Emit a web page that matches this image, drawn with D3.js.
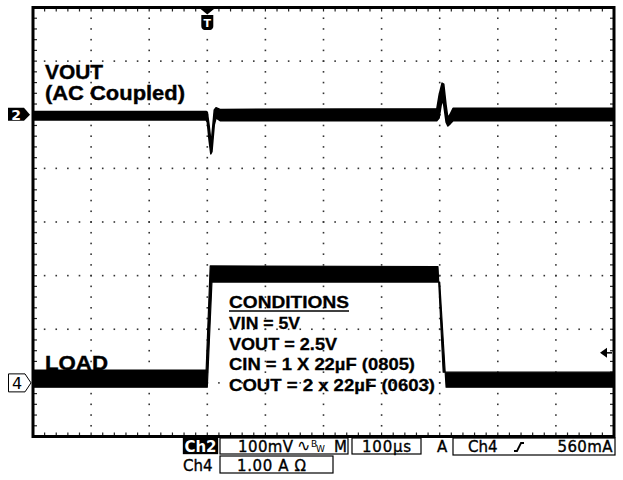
<!DOCTYPE html>
<html>
<head>
<meta charset="utf-8">
<script src="https://cdn.jsdelivr.net/npm/d3@7"></script>
<style>
  body { margin: 0; background: #fff; }
  svg { display: block; }
</style>
</head>
<body>
<svg id="scope" width="623" height="480"></svg>
<script>
// scope settings
const divX = 10, divY = 8;
const timePerDiv = 100;      // µs / div
const ch2PerDiv = 100;       // mV / div (AC coupled)
const ch4PerDiv = 1.0;       // A / div
const ch2Pos = 2;            // divisions from centre
const ch4Pos = -3;
const triggerTime = 300;     // µs
const triggerLevel = 0.56;   // A

// VOUT: upper / lower edge of the noisy band, mV
const voutTime = [0, 298, 300, 303, 306, 308, 312, 315, 322, 695, 699, 704, 707, 711, 714, 718, 723, 1000];
const voutHigh = [6, 6, 5, -19, -47, -38, 9, 13, 10, 11, 37, 59, 57, 18, -6, 1, 12, 12];
const voutLow  = [-10, -10, -14, -47, -73, -69, -19, -6, -11, -11, -6, 28, 18, -14, -21, -17, -11, -11];

// LOAD current: upper and lower edge of the band, A
const loadHighTime = [0, 298, 305, 697, 706, 1000];
const loadHigh     = [0.24, 0.24, 2.18, 2.17, 0.20, 0.20];
const loadLowTime  = [0, 300, 308, 700, 711, 1000];
const loadLow      = [-0.08, -0.08, 1.88, 1.88, -0.08, -0.08];

const traceLabels = ["VOUT", "(AC Coupled)", "LOAD"];
const conditions = ["CONDITIONS", "VIN = 5V", "VOUT = 2.5V", "CIN = 1 X 22µF (0805)", "COUT = 2 x 22µF (0603)"];
const conditionWidths = [120, 71, 108, 186, 206];

const svg = d3.select("#scope");

const x = d3.scaleLinear().domain([0, divX * timePerDiv]).range([33, 614]);
const yDiv = d3.scaleLinear().domain([-divY / 2, divY / 2]).range([436.5, 7.5]);
const y2 = v => yDiv(v / ch2PerDiv + ch2Pos);
const y4 = v => yDiv(v / ch4PerDiv + ch4Pos);

// graticule dots
const dots = [];
for (let i = 1; i < divX; i++)
  for (let k = 1; k < divY * 5; k++) dots.push([x(i * timePerDiv), yDiv(-divY / 2 + k / 5)]);
for (let j = 1; j < divY; j++)
  for (let k = 1; k < divX * 5; k++) dots.push([x(k * timePerDiv / 5), yDiv(-divY / 2 + j)]);

svg.append("g").attr("fill", "#333")
  .selectAll("rect").data(dots).join("rect")
    .attr("x", d => d[0] - 0.8).attr("y", d => d[1] - 0.8)
    .attr("width", 1.6).attr("height", 1.6);

// ticks along the frame
const ticks = svg.append("g").attr("stroke", "#222").attr("stroke-width", 1.2);
d3.range(1, divX * 5).forEach(k => {
  const px = x(k * timePerDiv / 5);
  ticks.append("line").attr("x1", px).attr("x2", px).attr("y1", yDiv(4)).attr("y2", yDiv(4) + 4);
  ticks.append("line").attr("x1", px).attr("x2", px).attr("y1", yDiv(-4)).attr("y2", yDiv(-4) - 4);
});
d3.range(1, divY * 5).forEach(k => {
  const py = yDiv(-divY / 2 + k / 5);
  ticks.append("line").attr("y1", py).attr("y2", py).attr("x1", x(0)).attr("x2", x(0) + 4);
  ticks.append("line").attr("y1", py).attr("y2", py).attr("x1", x(1000)).attr("x2", x(1000) - 4);
});

// frame
svg.append("rect")
  .attr("x", x(0)).attr("y", yDiv(4))
  .attr("width", x(1000) - x(0)).attr("height", yDiv(-4) - yDiv(4))
  .attr("fill", "none").attr("stroke", "#000").attr("stroke-width", 3);

// VOUT trace
const vout = voutTime.map((t, i) => ({ t, hi: voutHigh[i], lo: voutLow[i] }));
svg.append("path")
  .datum(vout)
  .attr("fill", "#000").attr("stroke", "#000").attr("stroke-width", 1.5)
  .attr("stroke-linejoin", "round")
  .attr("d", d3.area().x(d => x(d.t)).y0(d => y2(d.lo)).y1(d => y2(d.hi)));

// LOAD trace: upper edge forward, lower edge back
const loadPts = loadHighTime.map((t, i) => [x(t), y4(loadHigh[i])])
  .concat(loadLowTime.map((t, i) => [x(t), y4(loadLow[i])]).reverse());
svg.append("path")
  .attr("fill", "#000").attr("stroke", "#000").attr("stroke-width", 1.2)
  .attr("stroke-linejoin", "round")
  .attr("d", d3.line()(loadPts) + "Z");

// trigger position marker
const tx = x(triggerTime);
svg.append("path").attr("fill", "#000")
  .attr("d", `M${tx - 8.5},${yDiv(4)} L${tx + 8.5},${yDiv(4)} L${tx},${yDiv(4) + 7} Z`);
svg.append("path").attr("fill", "#000")
  .attr("d", `M${tx - 6},15 h12 v11 q0,3 -3,4 h-6 q-3,-1 -3,-4 Z`);
svg.append("text").attr("x", tx).attr("y", 27)
  .attr("text-anchor", "middle").attr("fill", "#fff")
  .attr("font-family", "DejaVu Sans").attr("font-weight", "bold").attr("font-size", 11)
  .text("T");

// trigger level arrow
const ty = y4(triggerLevel);
svg.append("path").attr("fill", "#000")
  .attr("d", `M600,${ty} L607,${ty - 5} L607,${ty + 5} Z`);
svg.append("line").attr("x1", 605).attr("x2", 612).attr("y1", ty).attr("y2", ty)
  .attr("stroke", "#000").attr("stroke-width", 1.5);

// channel ground markers
const g2 = y2(0);
svg.append("path").attr("fill", "#000")
  .attr("d", `M8,${g2 - 7} H24 L30,${g2} L24,${g2 + 6} H8 Z`);
svg.append("text").attr("x", 16).attr("y", g2 + 5)
  .attr("text-anchor", "middle").attr("fill", "#fff")
  .attr("font-family", "DejaVu Sans").attr("font-weight", "bold").attr("font-size", 14)
  .text("2");
const g4 = y4(0);
svg.append("path").attr("fill", "#fff").attr("stroke", "#000").attr("stroke-width", 1)
  .attr("d", `M8.5,${g4 - 9} H25 L31,${g4} L25,${g4 + 9} H8.5 Z`);
svg.append("text").attr("x", 17).attr("y", g4 + 6)
  .attr("text-anchor", "middle").attr("fill", "#000")
  .attr("font-family", "DejaVu Sans").attr("font-size", 16)
  .text("4");

// trace labels
const labelFont = "'Liberation Sans', Arial, sans-serif";
[[traceLabels[0], 45, 78.5, 58, 21], [traceLabels[1], 45, 99.5, 140, 21], [traceLabels[2], 45, 370, 63, 20]]
  .forEach(([txt, lx, ly, w, fs]) => {
    svg.append("text").attr("x", lx).attr("y", ly)
      .attr("font-family", labelFont).attr("font-weight", "bold").attr("font-size", fs)
      .attr("stroke", "#000").attr("stroke-width", 0.4)
      .attr("textLength", w).attr("lengthAdjust", "spacingAndGlyphs")
      .text(txt);
  });

// conditions block
const condY = [308, 329, 350, 370, 391];
conditions.forEach((c, i) => {
  svg.append("text").attr("x", 229).attr("y", condY[i])
    .attr("font-family", labelFont).attr("font-weight", "bold").attr("font-size", 17)
    .attr("stroke", "#000").attr("stroke-width", 0.3)
    .attr("textLength", conditionWidths[i]).attr("lengthAdjust", "spacingAndGlyphs")
    .text(c);
});
svg.append("line").attr("x1", 229).attr("x2", 229 + conditionWidths[0])
  .attr("y1", 311).attr("y2", 311).attr("stroke", "#000").attr("stroke-width", 1.5);

// readout below the graticule
const ro = svg.append("g").attr("font-family", "'DejaVu Sans', sans-serif").attr("font-size", 15)
  .attr("stroke", "#000").attr("stroke-width", 0.35);
const box = (bx, by, w, h) => ro.append("rect").attr("x", bx).attr("y", by).attr("width", w).attr("height", h)
  .attr("fill", "none").attr("stroke", "#000").attr("stroke-width", 1.2);

ro.append("rect").attr("x", 183).attr("y", 438).attr("width", 35).attr("height", 16).attr("fill", "#000");
ro.append("text").attr("x", 200.5).attr("y", 452).attr("text-anchor", "middle").attr("fill", "#fff")
  .attr("stroke", "none").attr("font-weight", "bold").text("Ch2");
box(220, 438, 128, 16);
ro.append("text").attr("x", 238).attr("y", 452).attr("letter-spacing", 0.4).text(`${ch2PerDiv}mV`);
ro.append("text").attr("x", 297).attr("y", 451).attr("font-size", 16).attr("stroke", "none").text("∿");
ro.append("text").attr("x", 311).attr("y", 447).attr("font-size", 9).attr("stroke", "none").text("B");
ro.append("text").attr("x", 316).attr("y", 452).attr("font-size", 9).attr("stroke", "none").text("W");
ro.append("text").attr("x", 334).attr("y", 452).text("M");
box(352, 438, 69, 16);
ro.append("text").attr("x", 362).attr("y", 452).attr("letter-spacing", 0.8).text(`${timePerDiv}µs`);
ro.append("text").attr("x", 437).attr("y", 452).text("A");
box(453, 438, 162, 17);
ro.append("text").attr("x", 468).attr("y", 452).text("Ch4");
ro.append("path").attr("fill", "none").attr("stroke", "#000").attr("stroke-width", 1.8)
  .attr("d", "M514,451 h3 l4,-8 h3");
ro.append("text").attr("x", 613).attr("y", 452).attr("text-anchor", "end").attr("letter-spacing", 0.4)
  .text(`${Math.round(triggerLevel * 1000)}mA`);

ro.append("text").attr("x", 183).attr("y", 471).text("Ch4");
box(220, 456, 113, 17);
ro.append("text").attr("x", 237).attr("y", 471).attr("letter-spacing", 0.6)
  .text(`${ch4PerDiv.toFixed(2)} A Ω`);
</script>
</body>
</html>
